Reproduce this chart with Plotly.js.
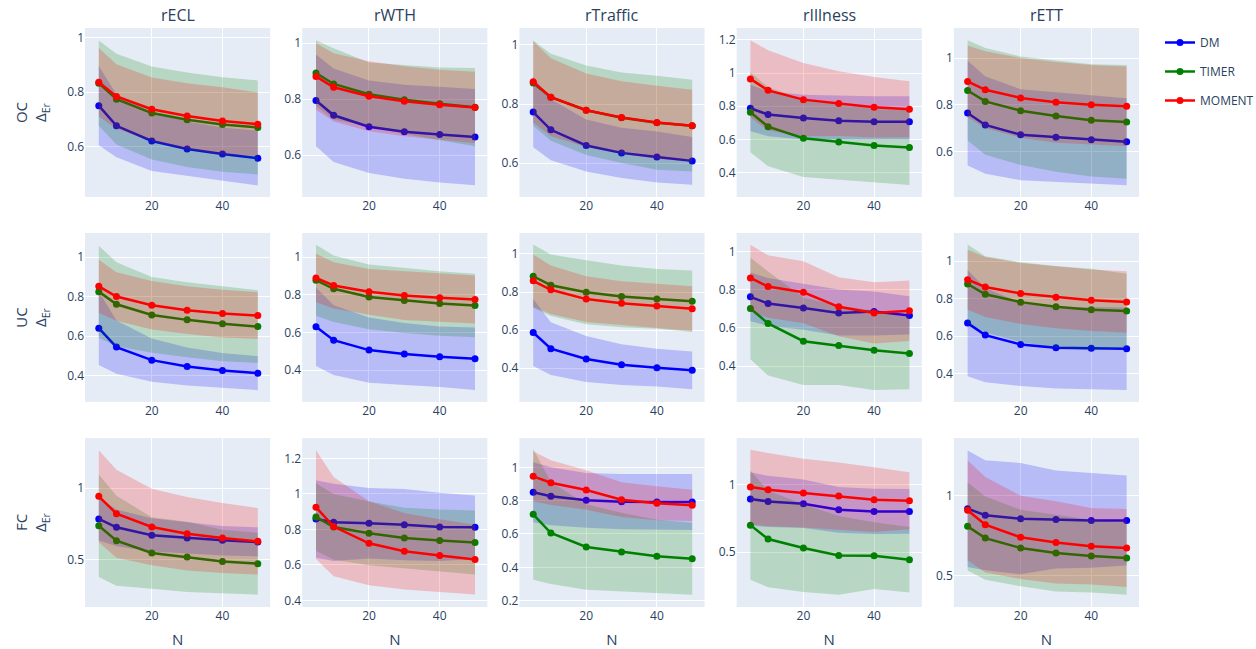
<!DOCTYPE html>
<html><head><meta charset="utf-8">
<script src="https://cdn.plot.ly/plotly-3.0.1.min.js"></script>
<style>html,body{margin:0;padding:0;background:#fff}#chart{width:1256px;height:649px}</style>
</head><body><div id="chart"></div>
<script>
// ---------------- data ----------------
const N = [5, 10, 20, 30, 40, 50];
const datasets = ['rECL', 'rWTH', 'rTraffic', 'rIllness', 'rETT'];
const settings = ['OC', 'UC', 'FC'];
const models = ['DM', 'TIMER', 'MOMENT'];

// rows: rECL, rWTH, rTraffic, rIllness, rETT
// ---- OC ----
const DM_OC_mean = [
  [0.750,0.676,0.620,0.591,0.572,0.557],
  [0.795,0.742,0.701,0.683,0.673,0.664],
  [0.773,0.713,0.660,0.635,0.621,0.608],
  [0.788,0.750,0.730,0.712,0.706,0.706],
  [0.764,0.713,0.671,0.660,0.650,0.641]];
const DM_OC_lo = [
  [0.604,0.560,0.510,0.490,0.474,0.456],
  [0.631,0.575,0.536,0.515,0.502,0.492],
  [0.654,0.610,0.572,0.550,0.535,0.527],
  [0.649,0.620,0.600,0.600,0.600,0.600],
  [0.539,0.504,0.476,0.467,0.461,0.454]];
const DM_OC_hi = [
  [0.896,0.792,0.730,0.692,0.670,0.658],
  [0.959,0.909,0.866,0.851,0.844,0.836],
  [0.892,0.816,0.748,0.720,0.707,0.689],
  [0.930,0.890,0.870,0.865,0.860,0.860],
  [0.989,0.922,0.866,0.853,0.839,0.828]];
const TIMER_OC_mean = [
  [0.833,0.774,0.723,0.698,0.681,0.670],
  [0.893,0.854,0.817,0.798,0.783,0.771],
  [0.871,0.823,0.779,0.754,0.737,0.727],
  [0.764,0.677,0.607,0.585,0.563,0.551],
  [0.861,0.814,0.774,0.751,0.733,0.726]];
const TIMER_OC_lo = [
  [0.676,0.607,0.552,0.524,0.507,0.497],
  [0.776,0.726,0.703,0.675,0.653,0.631],
  [0.727,0.676,0.628,0.601,0.578,0.572],
  [0.523,0.438,0.374,0.354,0.342,0.326],
  [0.646,0.585,0.541,0.512,0.492,0.482]];
const TIMER_OC_hi = [
  [0.990,0.941,0.894,0.872,0.855,0.843],
  [1.010,0.982,0.931,0.921,0.913,0.911],
  [1.015,0.970,0.930,0.907,0.896,0.882],
  [1.005,0.916,0.840,0.816,0.784,0.776],
  [1.076,1.043,1.007,0.990,0.974,0.970]];
const MOMENT_OC_mean = [
  [0.836,0.784,0.737,0.712,0.694,0.682],
  [0.881,0.842,0.810,0.792,0.780,0.770],
  [0.875,0.823,0.779,0.755,0.738,0.727],
  [0.965,0.896,0.840,0.816,0.794,0.782],
  [0.900,0.864,0.829,0.810,0.800,0.793]];
const MOMENT_OC_lo = [
  [0.710,0.665,0.620,0.591,0.570,0.565],
  [0.762,0.720,0.685,0.667,0.655,0.642],
  [0.738,0.691,0.655,0.633,0.614,0.606],
  [0.732,0.654,0.619,0.621,0.611,0.613],
  [0.746,0.699,0.658,0.637,0.630,0.622]];
const MOMENT_OC_hi = [
  [0.962,0.903,0.854,0.833,0.818,0.799],
  [1.000,0.964,0.935,0.917,0.905,0.898],
  [1.012,0.955,0.903,0.877,0.862,0.848],
  [1.198,1.138,1.061,1.011,0.977,0.951],
  [1.054,1.029,1.000,0.983,0.970,0.964]];

// ---- UC ----
const DM_UC_mean = [
  [0.640,0.544,0.478,0.446,0.426,0.412],
  [0.630,0.559,0.506,0.485,0.471,0.460],
  [0.588,0.503,0.449,0.419,0.403,0.389],
  [0.762,0.727,0.704,0.678,0.685,0.664],
  [0.670,0.606,0.556,0.538,0.536,0.533]];
const DM_UC_lo = [
  [0.453,0.409,0.369,0.350,0.338,0.326],
  [0.421,0.373,0.333,0.320,0.310,0.294],
  [0.412,0.365,0.328,0.312,0.304,0.290],
  [0.635,0.610,0.590,0.560,0.560,0.565],
  [0.387,0.355,0.334,0.321,0.316,0.313]];
const DM_UC_hi = [
  [0.827,0.679,0.587,0.542,0.514,0.498],
  [0.839,0.745,0.679,0.650,0.632,0.626],
  [0.764,0.641,0.570,0.526,0.502,0.488],
  [0.890,0.860,0.830,0.800,0.790,0.765],
  [0.953,0.857,0.778,0.755,0.756,0.753]];
const TIMER_UC_mean = [
  [0.825,0.761,0.707,0.682,0.662,0.648],
  [0.878,0.832,0.789,0.770,0.754,0.743],
  [0.883,0.836,0.799,0.777,0.764,0.752],
  [0.701,0.623,0.530,0.508,0.483,0.466],
  [0.879,0.824,0.782,0.757,0.742,0.735]];
const TIMER_UC_lo = [
  [0.592,0.548,0.515,0.492,0.472,0.464],
  [0.689,0.655,0.617,0.597,0.582,0.574],
  [0.717,0.675,0.631,0.615,0.607,0.591],
  [0.435,0.351,0.301,0.301,0.275,0.278],
  [0.669,0.621,0.569,0.539,0.524,0.537]];
const TIMER_UC_hi = [
  [1.058,0.974,0.899,0.872,0.852,0.832],
  [1.067,1.009,0.961,0.943,0.926,0.912],
  [1.049,0.997,0.967,0.939,0.921,0.913],
  [0.967,0.895,0.759,0.715,0.691,0.654],
  [1.089,1.027,0.995,0.975,0.960,0.933]];
const MOMENT_UC_mean = [
  [0.852,0.800,0.756,0.731,0.714,0.704],
  [0.890,0.850,0.816,0.796,0.784,0.775],
  [0.859,0.812,0.763,0.741,0.727,0.713],
  [0.861,0.816,0.786,0.710,0.678,0.689],
  [0.902,0.863,0.828,0.808,0.792,0.783]];
const MOMENT_UC_lo = [
  [0.717,0.677,0.633,0.610,0.593,0.586],
  [0.761,0.727,0.694,0.666,0.655,0.647],
  [0.721,0.685,0.643,0.625,0.611,0.595],
  [0.687,0.653,0.624,0.556,0.518,0.531],
  [0.742,0.703,0.665,0.643,0.628,0.619]];
const MOMENT_UC_hi = [
  [0.987,0.923,0.879,0.852,0.835,0.822],
  [1.019,0.973,0.938,0.926,0.913,0.903],
  [0.997,0.939,0.883,0.857,0.843,0.831],
  [1.035,0.979,0.948,0.864,0.838,0.847],
  [1.062,1.023,0.991,0.973,0.956,0.947]];

// ---- FC ----
const DM_FC_mean = [
  [0.784,0.726,0.670,0.651,0.635,0.623],
  [0.859,0.840,0.835,0.827,0.814,0.812],
  [0.850,0.826,0.802,0.794,0.792,0.792],
  [0.894,0.876,0.859,0.814,0.802,0.802],
  [0.917,0.876,0.855,0.849,0.844,0.844]];
const DM_FC_lo = [
  [0.634,0.593,0.558,0.545,0.530,0.523],
  [0.641,0.622,0.636,0.626,0.622,0.633],
  [0.670,0.652,0.638,0.628,0.624,0.624],
  [0.696,0.686,0.679,0.644,0.634,0.636],
  [0.554,0.534,0.509,0.544,0.549,0.564]];
const DM_FC_hi = [
  [0.934,0.850,0.790,0.760,0.735,0.726],
  [1.077,1.058,1.034,1.028,1.006,0.991],
  [1.030,1.000,0.966,0.960,0.960,0.960],
  [1.092,1.066,1.039,0.984,0.970,0.968],
  [1.280,1.218,1.201,1.154,1.139,1.124]];
const TIMER_FC_mean = [
  [0.737,0.633,0.547,0.519,0.488,0.472],
  [0.870,0.814,0.778,0.752,0.737,0.726],
  [0.718,0.606,0.522,0.492,0.466,0.452],
  [0.700,0.597,0.530,0.475,0.473,0.443],
  [0.807,0.734,0.672,0.641,0.622,0.610]];
const TIMER_FC_lo = [
  [0.379,0.319,0.298,0.274,0.267,0.256],
  [0.680,0.629,0.598,0.582,0.562,0.546],
  [0.326,0.300,0.266,0.256,0.246,0.236],
  [0.295,0.238,0.203,0.183,0.225,0.200],
  [0.533,0.475,0.434,0.402,0.396,0.382]];
const TIMER_FC_hi = [
  [1.095,0.947,0.796,0.764,0.709,0.688],
  [1.060,0.999,0.958,0.922,0.912,0.906],
  [1.110,0.912,0.778,0.728,0.686,0.668],
  [1.105,0.956,0.857,0.767,0.721,0.686],
  [1.081,0.993,0.910,0.880,0.848,0.838]];
const MOMENT_FC_mean = [
  [0.942,0.821,0.728,0.681,0.651,0.628],
  [0.925,0.816,0.722,0.677,0.653,0.630],
  [0.946,0.908,0.864,0.806,0.784,0.772],
  [0.983,0.963,0.938,0.916,0.889,0.881],
  [0.907,0.817,0.739,0.707,0.683,0.672]];
const MOMENT_FC_lo = [
  [0.621,0.514,0.461,0.425,0.407,0.396],
  [0.634,0.536,0.485,0.461,0.448,0.433],
  [0.796,0.774,0.746,0.702,0.682,0.678],
  [0.706,0.691,0.683,0.666,0.649,0.670],
  [0.596,0.520,0.480,0.451,0.445,0.429]];
const MOMENT_FC_hi = [
  [1.263,1.128,0.995,0.937,0.895,0.860],
  [1.246,1.096,0.959,0.893,0.858,0.827],
  [1.096,1.042,0.982,0.910,0.886,0.866],
  [1.260,1.235,1.193,1.166,1.129,1.092],
  [1.218,1.114,0.998,0.963,0.921,0.915]];

// ---------------- styling / layout ----------------
const lineColors = {DM: 'blue', TIMER: 'green', MOMENT: 'red'};
const bandColors = {DM: 'rgba(0,0,255,0.2)', TIMER: 'rgba(0,128,0,0.2)', MOMENT: 'rgba(255,0,0,0.2)'};
const yRanges = {
  OC: [[0.414,1.036],[0.45,1.054],[0.486,1.057],[0.253,1.272],[0.404,1.129]],
  UC: [[0.266,1.122],[0.23,1.129],[0.223,1.11],[0.212,1.096],[0.249,1.151]],
  FC: [[0.17,1.349],[0.363,1.315],[0.162,1.176],[0.092,1.347],[0.305,1.357]]
};
const xRange = [1.1, 53.5];

const table = {
  DM: {OC: [DM_OC_mean, DM_OC_lo, DM_OC_hi], UC: [DM_UC_mean, DM_UC_lo, DM_UC_hi], FC: [DM_FC_mean, DM_FC_lo, DM_FC_hi]},
  TIMER: {OC: [TIMER_OC_mean, TIMER_OC_lo, TIMER_OC_hi], UC: [TIMER_UC_mean, TIMER_UC_lo, TIMER_UC_hi], FC: [TIMER_FC_mean, TIMER_FC_lo, TIMER_FC_hi]},
  MOMENT: {OC: [MOMENT_OC_mean, MOMENT_OC_lo, MOMENT_OC_hi], UC: [MOMENT_UC_mean, MOMENT_UC_lo, MOMENT_UC_hi], FC: [MOMENT_FC_mean, MOMENT_FC_lo, MOMENT_FC_hi]}
};

const gx = 0.0304, wx = (1 - 4 * gx) / 5;
const gy = 0.0622, hy = (1 - 2 * gy) / 3;
const fontColor = '#2a3f5f';

const traces = [];
const layout = {
  width: 1256, height: 649,
  margin: {l: 85, r: 117, t: 28, b: 42},
  paper_bgcolor: '#fff', plot_bgcolor: '#E5ECF6',
  font: {family: '"Open Sans", verdana, arial, sans-serif', size: 12, color: fontColor},
  showlegend: true,
  legend: {xref: 'container', yref: 'container', x: 1160 / 1256, y: 1 - 28 / 649,
           xanchor: 'left', yanchor: 'top', tracegroupgap: 10,
           font: {size: 12, color: fontColor}, bgcolor: 'rgba(0,0,0,0)'},
  hovermode: false,
  annotations: []
};

settings.forEach((s, r) => {
  datasets.forEach((d, c) => {
    const k = r * 5 + c + 1;
    const xa = 'x' + (k === 1 ? '' : k), ya = 'y' + (k === 1 ? '' : k);
    const xkey = 'xaxis' + (k === 1 ? '' : k), ykey = 'yaxis' + (k === 1 ? '' : k);
    const x0 = c * (wx + gx), top = 1 - r * (hy + gy);
    const xaxis = {
      domain: [x0, x0 + wx], anchor: ya, range: xRange, automargin: false,
      gridcolor: 'white', gridwidth: 1, zeroline: false, showline: false, ticks: '',
      tickfont: {size: 12, color: fontColor}
    };
    if (r === 2) xaxis.title = {text: 'N', font: {size: 15, color: fontColor}};
    const yaxis = {
      domain: [top - hy, top], anchor: xa, range: yRanges[s][c], automargin: false,
      gridcolor: 'white', gridwidth: 1, zeroline: false, showline: false, ticks: '',
      tickfont: {size: 12, color: fontColor}
    };
    if (c === 0) yaxis.title = {text: s + '<br>Δ<sub>Er</sub>', standoff: 16, font: {size: 15, color: fontColor}};
    layout[xkey] = xaxis;
    layout[ykey] = yaxis;
    if (r === 0) {
      layout.annotations.push({
        text: d, x: x0 + wx / 2, y: 1, xref: 'paper', yref: 'paper',
        xanchor: 'center', yanchor: 'bottom', showarrow: false,
        font: {size: 16, color: fontColor}
      });
    }
    models.forEach(m => {
      const [meanA, loA, hiA] = table[m][s];
      const mean = meanA[c], lo = loA[c], hi = hiA[c];
      traces.push({
        type: 'scatter', mode: 'lines+markers', x: N, y: mean,
        xaxis: xa, yaxis: ya, name: m, legendgroup: m,
        showlegend: k === 1,
        line: {color: lineColors[m], width: 2.5},
        marker: {color: lineColors[m], size: 7}
      });
      traces.push({
        type: 'scatter', mode: 'lines',
        x: N.concat(N.slice().reverse()),
        y: hi.concat(lo.slice().reverse()),
        xaxis: xa, yaxis: ya, fill: 'toself', fillcolor: bandColors[m],
        line: {width: 0, color: 'rgba(0,0,0,0)'}, name: m + ' band',
        legendgroup: m, showlegend: false, hoverinfo: 'skip'
      });
    });
  });
});

Plotly.newPlot('chart', traces, layout, {displayModeBar: false, staticPlot: true});
</script>
</body></html>
